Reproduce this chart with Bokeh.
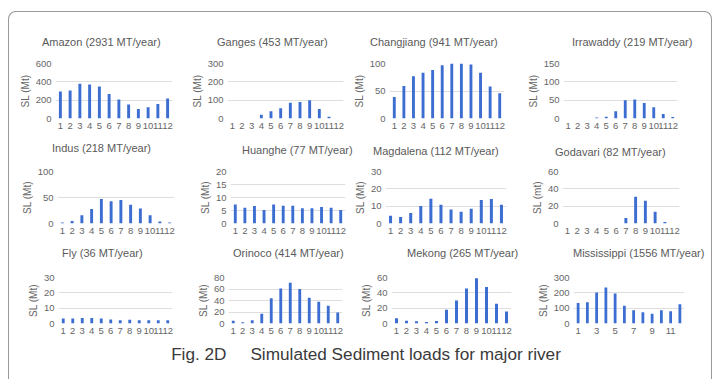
from bokeh.plotting import figure
from bokeh.layouts import gridplot, column
from bokeh.models import Div, FixedTicker, Range1d, ColumnDataSource
from bokeh.embed import file_html
from bokeh.resources import INLINE

# ---------------- data ----------------
months = list(range(1, 13))
amazon = [295, 305, 380, 370, 348, 266, 208, 154, 104, 122, 158, 219]
ganges = [0, 0, 0, 20, 40, 56, 86, 90, 100, 52, 9, 0]
changjiang = [39, 59, 77, 83, 88, 97, 101, 101, 98, 83, 58, 46]
irrawaddy = [0, 0, 0, 3, 5, 20, 50, 52, 42, 31, 12, 4]
indus = [2, 5, 16, 28, 47, 43, 45, 36, 29, 16, 4, 2]
huanghe = [7.3, 6.1, 6.7, 5.2, 7.3, 6.8, 6.8, 5.9, 5.9, 6.3, 6.1, 5.2]
magdalena = [4.5, 3.7, 6.0, 10.1, 14.3, 10.8, 8.1, 6.8, 8.5, 13.5, 14.1, 10.8]
godavari = [0, 0, 0, 0, 0, 0, 6.3, 31, 26.3, 13.7, 1.6, 0]
fly = [3.2, 3.2, 3.6, 3.6, 3.2, 2.6, 2.2, 2.4, 2.2, 2.2, 2.2, 2.2]
orinoco = [5, 2.3, 5.6, 17, 44, 61, 71, 60, 45, 38, 31, 19]
mekong = [7, 3.7, 2.9, 2, 3.3, 17.8, 30, 45.5, 59, 47.5, 25.6, 15.7]
mississippi = [134, 139, 202, 234, 195, 116, 86, 73, 64, 86, 80, 125]

titles = ["Amazon (2931 MT/year)", "Ganges (453 MT/year)", "Changjiang (941 MT/year)",
          "Irrawaddy (219 MT/year)", "Indus (218 MT/year)", "Huanghe (77 MT/year)",
          "Magdalena (112 MT/year)", "Godavari (82 MT/year)", "Fly (36 MT/year)",
          "Orinoco (414 MT/year)", "Mekong (265 MT/year)", "Mississippi (1556 MT/year)"]
series = [amazon, ganges, changjiang, irrawaddy, indus, huanghe,
          magdalena, godavari, fly, orinoco, mekong, mississippi]
y_ticks = [[0, 200, 400, 600], [0, 100, 200, 300], [0, 50, 100], [0, 50, 100, 150],
           [0, 50, 100], [0, 5, 10, 15, 20], [0, 10, 20, 30], [0, 20, 40, 60],
           [0, 10, 20, 30], [0, 20, 40, 60, 80], [0, 20, 40, 60], [0, 100, 200, 300]]
y_labels = ["SL (Mt)"] * 7 + ["SL (mt)"] + ["SL (Mt)"] * 4
x_ticks_all = months
x_ticks_odd = [1, 3, 5, 7, 9, 11]
caption = "Fig. 2D\u00a0\u00a0\u00a0\u00a0\u00a0Simulated Sediment loads for major river"

# ---------------- layout (pixels) ----------------
# per subplot: left border, frame width, right border
h_geom = [(46, 117, 12), (43, 116, 5), (41, 115, 18), (41, 114, 34),
          (48, 117, 20), (36, 115, 4), (36, 121, 20), (36, 117, 32),
          (49, 114, 20), (36, 114, 13), (36, 120, 21), (41, 111, 27)]
# per row: top border, frame height, bottom border
v_geom = [(13, 55, 18), (11, 52, 17), (15, 46, 17)]
# title strip above each row: height, and per-subplot text (left, top) inside it
strip_h = [38, 24, 22]
title_pos = [(33, 23.5), (208, 23.5), (361, 23.5), (563, 23.5),
             (43, 6), (233, 7.5), (364, 9), (546, 9.5),
             (53, 6.5), (224, 6.5), (398, 6.5), (564, 6.5)]

BAR = "#3c6dd1"
TXT = "#666666"
FONT = "Liberation Sans"
TOTAL_W = 702

children = []
for r in range(3):
    spans = ""
    for c in range(4):
        i = r * 4 + c
        lx, ty = title_pos[i]
        spans += ('<span style="position:absolute;left:%spx;top:%spx;white-space:nowrap;'
                  'font-family:\'Liberation Sans\',Arial,sans-serif;font-size:11px;'
                  'line-height:13px;color:#5a5a5a">%s</span>' % (lx, ty, titles[i]))
    strip = Div(text='<div style="position:relative;width:%dpx;height:%dpx">%s</div>'
                % (TOTAL_W, strip_h[r], spans),
                width=TOTAL_W, height=strip_h[r], margin=0)
    children.append(strip)

    figs = []
    tb, fh, bb = v_geom[r]
    for c in range(4):
        i = r * 4 + c
        lb, fw, rb = h_geom[i]
        p = figure(width=lb + fw + rb, height=tb + fh + bb, output_backend="svg",
                   toolbar_location=None,
                   x_range=Range1d(0.5, 12.5), y_range=Range1d(0, y_ticks[i][-1]),
                   min_border_left=lb, min_border_right=rb,
                   min_border_top=tb, min_border_bottom=bb)
        src = ColumnDataSource(dict(m=months, v=series[i]))
        p.vbar(x="m", top="v", width=0.3, source=src, fill_color=BAR, line_color=None)
        p.outline_line_color = None
        p.xgrid.grid_line_color = None
        p.ygrid.grid_line_color = "#dedede"
        p.ygrid.ticker = FixedTicker(ticks=y_ticks[i])
        p.yaxis.ticker = FixedTicker(ticks=y_ticks[i])
        p.xaxis.ticker = FixedTicker(ticks=x_ticks_odd if i == 11 else x_ticks_all)
        for ax in (p.xaxis[0], p.yaxis[0]):
            ax.axis_line_color = None
            ax.major_tick_line_color = None
            ax.minor_tick_line_color = None
            ax.major_tick_out = 0
            ax.major_tick_in = 0
            ax.minor_tick_out = 0
            ax.minor_tick_in = 0
            ax.major_label_text_font = FONT
            ax.major_label_text_font_size = "9.5px"
            ax.major_label_text_color = TXT
        p.xaxis.major_label_standoff = 4
        p.yaxis.major_label_standoff = 4
        p.yaxis.axis_label = y_labels[i]
        p.yaxis.axis_label_text_font = FONT
        p.yaxis.axis_label_text_font_size = "10px"
        p.yaxis.axis_label_text_font_style = "normal"
        p.yaxis.axis_label_text_color = TXT
        p.yaxis.axis_label_standoff = 2
        figs.append(p)
    children.append(gridplot([figs], toolbar_location=None))

cap = Div(text='<span style="position:relative;left:6px">' + caption + '</span>',
          width=TOTAL_W, height=39, margin=0,
          styles={"font-family": "Liberation Sans, Arial, sans-serif", "font-size": "17.2px",
                  "color": "#3a3a3a", "text-align": "center", "line-height": "28px",
                  "white-space": "pre"})
children.append(cap)

layout = column(*children, spacing=0, margin=(11, 0, 0, 8),
                styles={"border": "1px solid #999999", "border-bottom": "none",
                        "border-radius": "8px 8px 0 0"})

open("out.html", "w").write(file_html(layout, INLINE))
